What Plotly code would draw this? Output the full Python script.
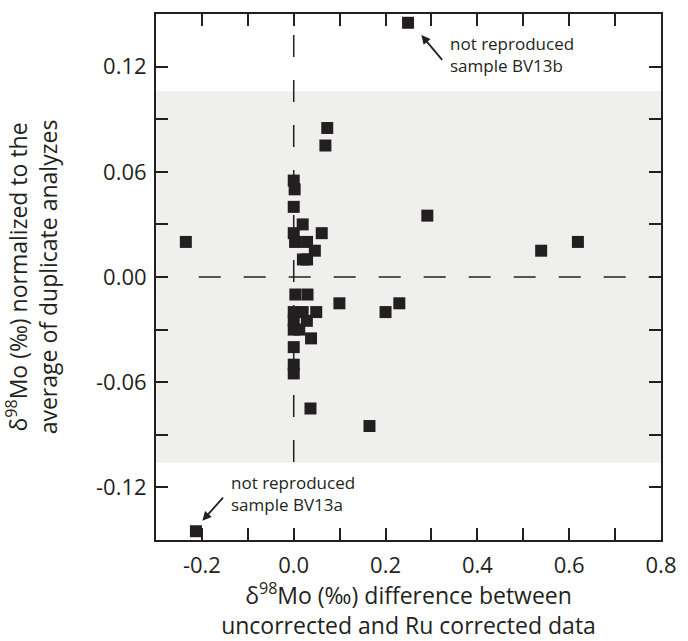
import plotly.graph_objects as go

# delta98Mo difference between uncorrected and Ru corrected data (x)
x_diff = [0.249, 0.073, 0.069, 0.000, 0.002, 0.000, 0.0195, 0.000, 0.061, -0.235,
          0.003, 0.029, 0.046, 0.020, 0.029, 0.291, 0.539, 0.619,
          0.0035, 0.030, 0.0995, 0.049, 0.000, 0.0195, 0.000, 0.0286, 0.000, 0.012,
          0.0377, 0.000, 0.000, 0.000, 0.200, 0.230, 0.0365, 0.165, -0.213]
# delta98Mo normalized to the average of duplicate analyzes (y)
y_norm = [0.145, 0.085, 0.075, 0.055, 0.050, 0.040, 0.030, 0.025, 0.025, 0.020,
          0.020, 0.020, 0.015, 0.010, 0.010, 0.035, 0.015, 0.020,
          -0.010, -0.010, -0.015, -0.020, -0.020, -0.020, -0.025, -0.025, -0.030, -0.030,
          -0.035, -0.040, -0.050, -0.055, -0.020, -0.015, -0.075, -0.085, -0.145]

x_tick_vals = [-0.2, -0.1, 0.0, 0.1, 0.2, 0.3, 0.4, 0.5, 0.6, 0.7, 0.8]
x_tick_labels = ["-0.2", "", "0.0", "", "0.2", "", "0.4", "", "0.6", "", "0.8"]
y_tick_vals = [-0.12, -0.09, -0.06, -0.03, 0.0, 0.03, 0.06, 0.09, 0.12]
y_tick_labels = ["-0.12", "", "-0.06", "", "0.00", "", "0.06", "", "0.12"]

x_range = [-0.3, 0.8]
y_range = [-0.15, 0.15]
band_half_width = 0.106

label_b = "not reproduced<br>sample BV13b"
label_a = "not reproduced<br>sample BV13a"

ink = "#231f20"
font_family = "Open Sans, Noto Sans, sans-serif"

fig = go.Figure()
fig.add_trace(go.Scatter(
    x=x_diff, y=y_norm, mode="markers",
    marker=dict(symbol="square", size=12, color=ink, line=dict(width=0)),
    showlegend=False, hoverinfo="skip",
))

shapes = [
    dict(type="rect", xref="x", yref="y", x0=x_range[0], x1=x_range[1],
         y0=-band_half_width, y1=band_half_width,
         fillcolor="#eff0ee", line=dict(width=0), layer="below"),
    dict(type="line", xref="x", yref="y", x0=-0.207, x1=x_range[1], y0=0, y1=0,
         line=dict(color=ink, width=1.5, dash="22px,23px"), layer="below"),
    dict(type="line", xref="x", yref="y", x0=0, x1=0, y0=0.138, y1=-band_half_width,
         line=dict(color=ink, width=1.5, dash="22px,23px"), layer="below"),
]

annotations = [
    dict(x=0.335, y=0.127, xref="x", yref="y", text=label_b, showarrow=False,
         xanchor="left", yanchor="middle", align="left",
         font=dict(size=17, color=ink, family=font_family)),
    dict(x=0.278, y=0.138, xref="x", yref="y", ax=0.326, ay=0.123,
         axref="x", ayref="y", text="", showarrow=True,
         arrowhead=2, arrowsize=1, arrowwidth=1.8, arrowcolor=ink),
    dict(x=-0.14, y=-0.1233, xref="x", yref="y", text=label_a, showarrow=False,
         xanchor="left", yanchor="middle", align="left",
         font=dict(size=17, color=ink, family=font_family)),
    dict(x=-0.199, y=-0.139, xref="x", yref="y", ax=-0.151, ay=-0.125,
         axref="x", ayref="y", text="", showarrow=True,
         arrowhead=2, arrowsize=1, arrowwidth=1.8, arrowcolor=ink),
]

axis_common = dict(
    showline=True, linewidth=2, linecolor=ink, mirror="ticks",
    ticks="inside", ticklen=12, tickwidth=1.5, tickcolor=ink,
    showgrid=False, zeroline=False, ticklabeloverflow="allow",
    tickfont=dict(size=22, color=ink, family=font_family),
)

fig.update_layout(
    width=688, height=641,
    margin=dict(l=143, r=18, t=12, b=101),
    plot_bgcolor="white", paper_bgcolor="white",
    font=dict(family=font_family, color=ink),
    shapes=shapes, annotations=annotations,
    xaxis=dict(range=x_range, tickmode="array", tickvals=x_tick_vals,
               ticktext=x_tick_labels, ticklabelstandoff=5,
               title=dict(text="δ<sup>98</sup>Mo (‰) difference between<br>uncorrected and Ru corrected data",
                          font=dict(size=23, color=ink, family=font_family), standoff=4),
               **axis_common),
    yaxis=dict(range=y_range, tickmode="array", tickvals=y_tick_vals,
               ticktext=y_tick_labels, ticklabelstandoff=3,
               title=dict(text="δ<sup>98</sup>Mo (‰) normalized to the<br>average of duplicate analyzes",
                          font=dict(size=23, color=ink, family=font_family), standoff=38),
               **axis_common),
)

fig.write_html(
    "out.html",
    config={"displayModeBar": False},
    post_script="document.body.style.margin='0px';document.body.style.overflow='hidden';",
)
